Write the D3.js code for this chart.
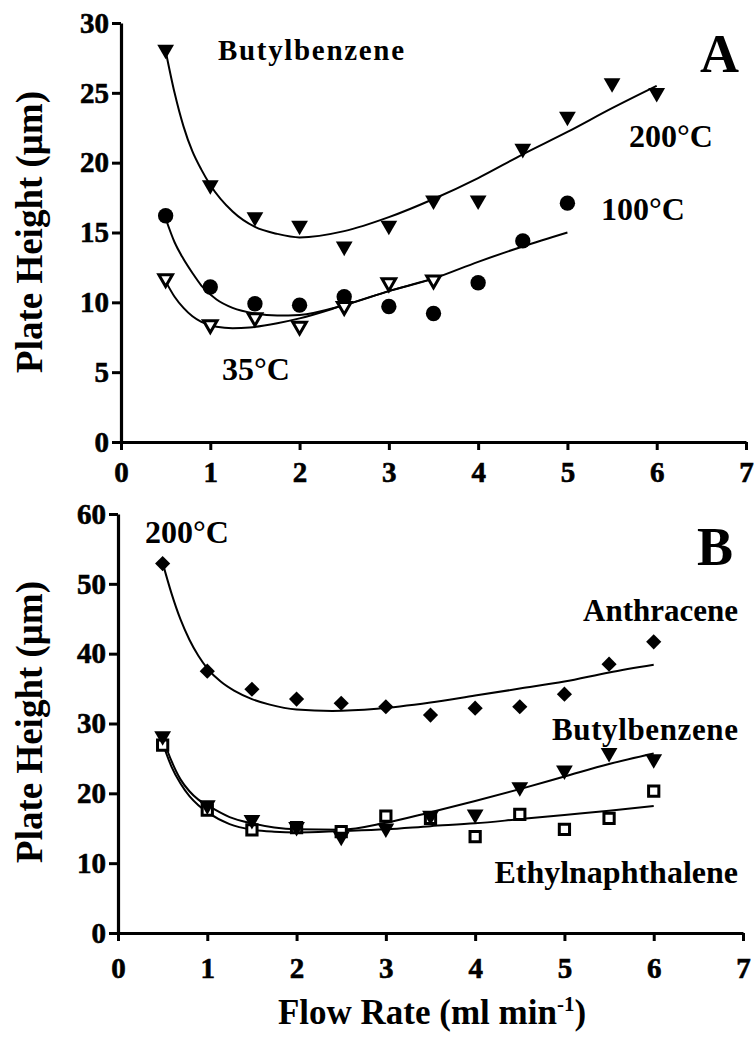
<!DOCTYPE html>
<html>
<head>
<meta charset="utf-8">
<script src="https://cdn.jsdelivr.net/npm/d3@7"></script>
<style>
  html, body { margin: 0; padding: 0; background: #fff; }
  svg text { font-family: "Liberation Serif", "Times New Roman", serif; font-weight: bold; fill: #000; }
</style>
</head>
<body>
<svg id="chart" width="755" height="1044"></svg>
<script>
// ---------------- DATA ----------------
// Panel A : Butylbenzene at three temperatures
const flowA200 = [0.5, 1, 1.5, 2, 2.5, 3, 3.5, 4, 4.5, 5, 5.5, 6];
const hA200    = [28.1, 18.4, 16.1, 15.5, 14.0, 15.5, 17.3, 17.3, 21.0, 23.3, 25.7, 25.0];
const flowA100 = [0.5, 1, 1.5, 2, 2.5, 3, 3.5, 4, 4.5, 5];
const hA100    = [16.2, 11.1, 9.9, 9.8, 10.4, 9.7, 9.2, 11.4, 14.4, 17.1];
const flowA35  = [0.5, 1, 1.5, 2, 2.5, 3, 3.5];
const hA35     = [11.7, 8.4, 8.9, 8.3, 9.7, 11.4, 11.6];

// fitted curves
const fitA200x = [0.5, 0.6, 0.7, 0.8, 0.9, 1.0, 1.25, 1.5, 1.75, 2.0, 2.5, 3.0, 3.5, 4.0, 4.5, 5.0, 5.5, 6.0];
const fitA200y = [28.0, 25.0, 22.6, 20.8, 19.5, 18.4, 16.5, 15.4, 14.9, 14.65, 15.1, 16.1, 17.4, 18.9, 20.6, 22.2, 23.9, 25.5];
const fitA100x = [0.5, 0.6, 0.7, 0.8, 0.9, 1.07, 1.25, 1.5, 1.75, 2.0, 2.5, 3.0, 3.5, 4.0, 4.5, 5.0];
const fitA100y = [16.0, 14.3, 13.1, 12.1, 11.2, 10.2, 9.6, 9.2, 9.05, 9.1, 9.8, 10.8, 11.7, 12.9, 14.0, 15.0];
const fitA35x  = [0.5, 0.6, 0.7, 0.8, 0.9, 1.07, 1.25, 1.44, 1.75, 2.0, 2.5, 3.0, 3.5];
const fitA35y  = [11.5, 10.4, 9.6, 9.0, 8.6, 8.25, 8.15, 8.2, 8.5, 8.85, 9.8, 10.8, 11.7];

// Panel B : three solutes at 200 °C
const flowB = [0.5, 1, 1.5, 2, 2.5, 3, 3.5, 4, 4.5, 5, 5.5, 6];
const hAnthracene = [52.9, 37.5, 34.9, 33.5, 32.9, 32.4, 31.2, 32.2, 32.4, 34.2, 38.5, 41.7];
const hButylB     = [28.2, 18.3, 16.2, 15.2, 13.8, 15.0, 16.8, 17.0, 20.9, 23.3, 25.8, 24.9];
const hEthylnaph  = [26.9, 17.6, 14.75, 15.1, 14.5, 16.75, 16.4, 13.8, 17.0, 14.85, 16.4, 20.3];

const fitAnthx = [0.5, 0.6, 0.7, 0.8, 0.9, 1.0, 1.15, 1.3, 1.5, 1.7, 2.0, 2.4, 2.9, 3.5, 4.0, 4.5, 5.0, 5.5, 6.0];
const fitAnthy = [53.0, 48.6, 44.9, 42.0, 39.7, 37.9, 36.0, 34.7, 33.5, 32.7, 32.0, 31.8, 32.1, 33.0, 34.0, 35.0, 36.0, 37.3, 38.4];
const fitButx  = [0.5, 0.6, 0.7, 0.8, 0.9, 1.0, 1.25, 1.5, 1.75, 2.0, 2.5, 3.0, 3.5, 4.0, 4.5, 5.0, 5.5, 6.0];
const fitButy  = [28.0, 24.6, 22.0, 20.3, 19.1, 18.3, 16.6, 15.7, 15.1, 14.85, 14.8, 15.8, 17.3, 18.9, 20.6, 22.4, 24.2, 25.7];
const fitEthx  = [0.5, 0.6, 0.7, 0.8, 0.9, 1.0, 1.25, 1.5, 1.75, 2.0, 2.5, 3.0, 3.5, 4.0, 4.5, 5.0, 5.5, 6.0];
const fitEthy  = [27.2, 23.8, 21.4, 19.6, 18.3, 17.3, 15.6, 14.8, 14.5, 14.4, 14.6, 14.85, 15.3, 15.7, 16.3, 16.9, 17.5, 18.2];

// axis ticks
const xTicks  = [0, 1, 2, 3, 4, 5, 6, 7];
const yTicksA = [0, 5, 10, 15, 20, 25, 30];
const yTicksB = [0, 10, 20, 30, 40, 50, 60];

// ---------------- DRAW ----------------
const svg = d3.select("#chart");

const xA = d3.scaleLinear().domain([0, 7]).range([121, 746]);
const yA = d3.scaleLinear().domain([0, 30]).range([442, 23]);
const xB = d3.scaleLinear().domain([0, 7]).range([118, 743]);
const yB = d3.scaleLinear().domain([0, 60]).range([933, 514]);

function drawAxes(x, y, yTicks, xPad) {
  const gx = svg.append("g").attr("transform", `translate(0,${y(0)})`)
    .call(d3.axisBottom(x).tickValues(xTicks).tickFormat(d3.format("d")).tickSize(8).tickSizeOuter(0).tickPadding(xPad));
  const gy = svg.append("g").attr("transform", `translate(${x(0)},0)`)
    .call(d3.axisLeft(y).tickValues(yTicks).tickFormat(d3.format("d")).tickSize(9).tickSizeOuter(0).tickPadding(3));
  [gx, gy].forEach(g => {
    g.attr("font-family", null).attr("font-size", null);
    g.select(".domain").attr("stroke", "#000").attr("stroke-width", 3.2);
    g.selectAll(".tick line").attr("stroke", "#000").attr("stroke-width", 3);
    g.selectAll(".tick text").attr("font-size", 29).attr("font-weight", "bold")
      .style("font-family", "'Liberation Serif', serif").style("font-weight", "bold")
      .attr("fill", "#000").attr("stroke", "#000").attr("stroke-width", 0.6);
  });
}
drawAxes(xA, yA, yTicksA, 11);
drawAxes(xB, yB, yTicksB, 16);

function drawFit(x, y, xs, ys) {
  const pts = xs.map((d, i) => [d, ys[i]]);
  svg.append("path")
    .attr("d", d3.line().x(d => x(d[0])).y(d => y(d[1])).curve(d3.curveMonotoneX)(pts))
    .attr("fill", "none").attr("stroke", "#000").attr("stroke-width", 2);
}

const symTri   = d3.symbol().type(d3.symbolTriangle);
const symCirc  = d3.symbol().type(d3.symbolCircle);
const symSq    = d3.symbol().type(d3.symbolSquare);

function drawPts(x, y, xs, ys, kind) {
  const pts = xs.map((d, i) => [d, ys[i]]);
  const g = svg.append("g");
  const sel = g.selectAll("path").data(pts).enter().append("path");
  if (kind === "triDown") {
    sel.attr("d", symTri.size(122)()).attr("fill", "#000")
      .attr("transform", d => `translate(${x(d[0])},${y(d[1])}) rotate(180)`);
  } else if (kind === "triOpen") {
    sel.attr("d", symTri.size(80)()).attr("fill", "#fff").attr("stroke", "#000").attr("stroke-width", 3)
      .attr("transform", d => `translate(${x(d[0])},${y(d[1])}) rotate(180)`);
  } else if (kind === "circle") {
    sel.attr("d", symCirc.size(185)()).attr("fill", "#000")
      .attr("transform", d => `translate(${x(d[0])},${y(d[1])})`);
  } else if (kind === "diamond") {
    sel.attr("d", symSq.size(115)()).attr("fill", "#000")
      .attr("transform", d => `translate(${x(d[0])},${y(d[1])}) rotate(45)`);
  } else if (kind === "square") {
    sel.attr("d", symSq.size(105)()).attr("fill", "#fff").attr("stroke", "#000").attr("stroke-width", 3)
      .attr("transform", d => `translate(${x(d[0])},${y(d[1])})`);
  }
}

// Panel A
drawFit(xA, yA, fitA200x, fitA200y);
drawFit(xA, yA, fitA100x, fitA100y);
drawFit(xA, yA, fitA35x, fitA35y);
drawPts(xA, yA, flowA200, hA200, "triDown");
drawPts(xA, yA, flowA100, hA100, "circle");
drawPts(xA, yA, flowA35, hA35, "triOpen");

// Panel B
drawFit(xB, yB, fitAnthx, fitAnthy);
drawFit(xB, yB, fitButx, fitButy);
drawFit(xB, yB, fitEthx, fitEthy);
drawPts(xB, yB, flowB, hAnthracene, "diamond");
drawPts(xB, yB, flowB, hEthylnaph, "square");
drawPts(xB, yB, flowB, hButylB, "triDown");

// Labels
function label(txt, x, y, size, len, anchor) {
  const t = svg.append("text").attr("x", x).attr("y", y).attr("font-size", size)
    .attr("text-anchor", anchor || "start").text(txt);
  if (len) t.attr("textLength", len).attr("lengthAdjust", "spacing");
  return t;
}
label("Butylbenzene", 218, 60, 29, 186);
label("A", 739, 72, 54, null, "end");
label("200°C", 629, 147, 32);
label("100°C", 601, 220, 32);
label("35°C", 222, 380, 32);

label("200°C", 145, 543, 32);
label("B", 733, 565, 54, null, "end");
label("Anthracene", 738, 621, 31, null, "end");
label("Butylbenzene", 738, 740, 31, 186, "end");
label("Ethylnaphthalene", 738, 883, 32, null, "end");

// Axis titles
svg.append("text").attr("transform", "translate(42,232) rotate(-90)")
  .attr("text-anchor", "middle").attr("font-size", 37).text("Plate Height (μm)");
svg.append("text").attr("transform", "translate(42,722) rotate(-90)")
  .attr("text-anchor", "middle").attr("font-size", 37).text("Plate Height (μm)");

const xt = svg.append("text").attr("x", 432).attr("y", 1024)
  .attr("text-anchor", "middle").attr("font-size", 35);
xt.append("tspan").text("Flow Rate (ml min");
xt.append("tspan").attr("font-size", 21).attr("dy", -13).text("-1");
xt.append("tspan").attr("dy", 13).text(")");
</script>
</body>
</html>
